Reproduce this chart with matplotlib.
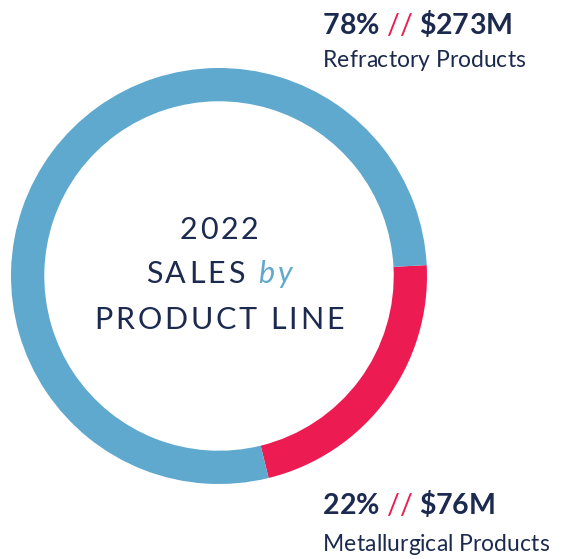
import matplotlib
matplotlib.use("Agg")
import matplotlib.pyplot as plt

# -------------------------------
# 1. Data
# -------------------------------

product_lines = ["Metallurgical Products", "Refractory Products"]
shares = [22, 78]
sales_m = [76, 273]
colors = ["#EC1C53", "#5FA8CE"]

NAVY = "#1B2A4E"
W, H = 562, 559

# -------------------------------
# 2. Donut
# -------------------------------

fig = plt.figure(figsize=(W / 100, H / 100), dpi=100)
ax = fig.add_axes([11 / W, 75 / H, 416 / W, 416 / H])
ax.pie(shares, colors=colors, startangle=3, counterclock=False, radius=1,
       wedgeprops=dict(width=0.16, linewidth=0))
ax.set_xlim(-1, 1)
ax.set_ylim(-1, 1)
ax.axis("off")

renderer = fig.canvas.get_renderer()


def text_w(s, props):
    t = fig.text(0, 0, s, **props)
    w = t.get_window_extent(renderer).width
    t.remove()
    return w


def advance(ch, props):
    # advance width incl. side bearings
    return text_w("i" + ch + "i", props) - text_w("ii", props)


def draw_run(x, y, pieces, track=0.0, center=False):
    # x, y in pixels from top-left, y is the baseline
    items = []
    for s, props in pieces:
        for ch in s:
            items.append((ch, props, advance(ch, props)))
    total = sum(w for _, _, w in items) + track * (len(items) - 1)
    if center:
        x = x - total / 2
    for ch, props, w in items:
        if ch != " ":
            fig.text(x / W, 1 - y / H, ch, va="baseline", ha="left", **props)
        x += w + track


# -------------------------------
# 3. Centre title
# -------------------------------

light = dict(family="Lato", weight="normal", size=22, color=NAVY)
by = dict(family="Lato", weight="normal", style="italic", size=22, color=colors[1])

draw_run(219, 239, [("2022", light)], track=3, center=True)
draw_run(219, 283, [("SALES ", light), ("by", by)], track=3, center=True)
draw_run(219, 329, [("PRODUCT LINE", light)], track=2.8, center=True)

# -------------------------------
# 4. Labels
# -------------------------------

bold = dict(family="Lato", weight="bold", size=20.5, color=NAVY)
slash = dict(family="Lato", weight="normal", size=20.5, color=colors[0])
name = dict(family="Lato", weight="normal", size=16.5, color=NAVY)

label_y = {"Refractory Products": (34, 67), "Metallurgical Products": (514, 551)}

for line, pct, val in zip(product_lines, shares, sales_m):
    y1, y2 = label_y[line]
    draw_run(323, y1, [(f"{pct}% ", bold), ("//", slash), (f" ${val}M", bold)])
    draw_run(323, y2, [(line, name)])

fig.savefig("out.png", dpi=100)
